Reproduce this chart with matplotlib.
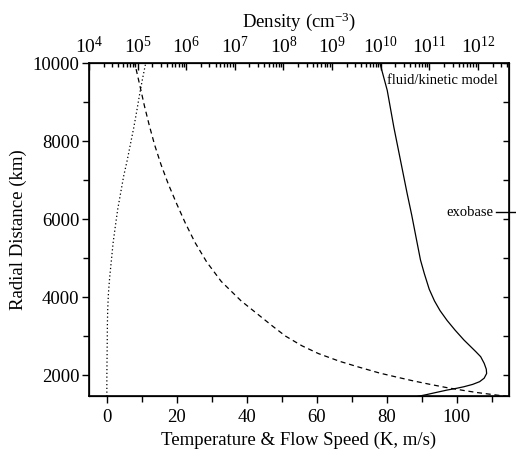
import numpy as np
import matplotlib
matplotlib.use("Agg")
import matplotlib.pyplot as plt
from matplotlib.ticker import MultipleLocator, LogLocator, FuncFormatter

plt.rcParams['font.family'] = ['Liberation Serif', 'DejaVu Serif']
plt.rcParams['mathtext.fontset'] = 'custom'
plt.rcParams['mathtext.rm'] = 'Liberation Serif'
plt.rcParams['mathtext.it'] = 'Liberation Serif:italic'

# temperature (solid, bottom axis)
r_temp = [1450, 1500, 1560, 1615, 1660, 1700, 1760, 1830, 1920, 2040, 2150, 2300,
          2470, 2600, 2750, 2900, 3150, 3400, 3650, 3900, 4200, 4600, 4950, 5500,
          6100, 6650, 7500, 8350, 9300, 10000]
temp = [88.8, 91.5, 94.5, 97.3, 100.0, 102.1, 104.6, 106.6, 107.9, 108.6, 108.5, 107.9,
        106.9, 105.5, 103.8, 102.1, 99.6, 97.3, 95.3, 93.7, 92.2, 90.8, 89.7, 88.5,
        87.2, 85.9, 84.0, 82.1, 80.2, 78.1]

# flow speed (dotted, bottom axis)
r_flow = [1450, 2000, 2800, 3300, 3700, 4100, 4500, 4950, 5400, 5800, 6250, 6650,
          7100, 7500, 7950, 8350, 8800, 9220, 9600, 10000]
flow = [0.1, 0.1, 0.2, 0.25, 0.35, 0.55, 0.9, 1.4, 1.9, 2.5, 3.2, 4.0,
        4.9, 5.9, 6.9, 7.8, 8.7, 9.5, 10.3, 11.2]

# density (dashed, top log axis), log10 cm^-3
r_dens = [1450, 1500, 1550, 1600, 1675, 1760, 1850, 1950, 2050, 2200, 2350, 2550,
          2750, 3000, 3250, 3500, 3900, 4400, 4900, 5400, 5900, 6400, 6900, 7400,
          7900, 8400, 8900, 9400, 10000]
log_dens = [12.62, 12.30, 11.99, 11.73, 11.37, 11.02, 10.67, 10.32, 9.98, 9.56, 9.16, 8.72,
            8.38, 8.04, 7.78, 7.53, 7.13, 6.72, 6.42, 6.18, 5.98, 5.80, 5.63, 5.48,
            5.35, 5.24, 5.14, 5.05, 4.94]

exobase = 6180

fig = plt.figure(figsize=(5.16, 4.57), dpi=100)
ax = fig.add_axes([0.1725, 0.1324, 0.8140, 0.7297])

ax.plot(temp, r_temp, color='black', lw=0.9)
ax.plot(flow, r_flow, color='black', lw=0.9, ls=(0, (1, 2)))
ax.set_xlim(-5, 115)
ax.set_ylim(1450, 10000)
ax.xaxis.set_major_locator(MultipleLocator(20))
ax.xaxis.set_minor_locator(MultipleLocator(10))
ax.yaxis.set_major_locator(MultipleLocator(2000))
ax.yaxis.set_minor_locator(MultipleLocator(1000))
ax.tick_params(which='both', direction='out', top=False, right=False, labelsize=13.5, width=1.0)
ax.tick_params(which='major', length=5, pad=2)
ax.tick_params(axis='x', which='major', pad=4)
ax.tick_params(which='minor', length=4)
ax.set_xlabel('Temperature & Flow Speed (K, m/s)', fontsize=13.5, labelpad=4)
ax.set_ylabel('Radial Distance (km)', fontsize=13.5, labelpad=4)
for s in ax.spines.values():
    s.set_linewidth(1.2)

# right side ticks, inward
axr = ax.twinx()
axr.set_ylim(1450, 10000)
axr.yaxis.set_major_locator(MultipleLocator(1000))
axr.tick_params(axis='y', direction='in', length=4, width=1.0, labelright=False)

# density on top log axis
axt = ax.twiny()
axt.set_xscale('log')
axt.plot(10 ** np.array(log_dens), r_dens, color='black', lw=0.9, ls=(0, (4, 3)))
axt.set_xlim(1e4, 10 ** 12.64)
axt.set_ylim(1450, 10000)
axt.xaxis.set_major_locator(LogLocator(base=10, numticks=20))
axt.xaxis.set_minor_locator(LogLocator(base=10, subs=np.arange(2, 10), numticks=20))
axt.xaxis.set_major_formatter(FuncFormatter(lambda v, p: r'$\mathregular{10^{%d}}$' % round(np.log10(v))))
axt.tick_params(axis='x', which='both', direction='in', labelsize=14, width=1.0, pad=4)
axt.tick_params(axis='x', which='major', length=5)
axt.tick_params(axis='x', which='minor', length=3)
axt.set_xlabel('Density (cm$^{-3}$)', fontsize=13.5, labelpad=7)

ax.text(111.7, 9550, 'fluid/kinetic model', ha='right', va='center', fontsize=10.5)
ax.text(110.5, exobase, 'exobase', ha='right', va='center', fontsize=10.5)
ax.plot([111.2, 117.5], [exobase, exobase], color='black', lw=1.0, clip_on=False)

fig.savefig('out.png', dpi=100)
